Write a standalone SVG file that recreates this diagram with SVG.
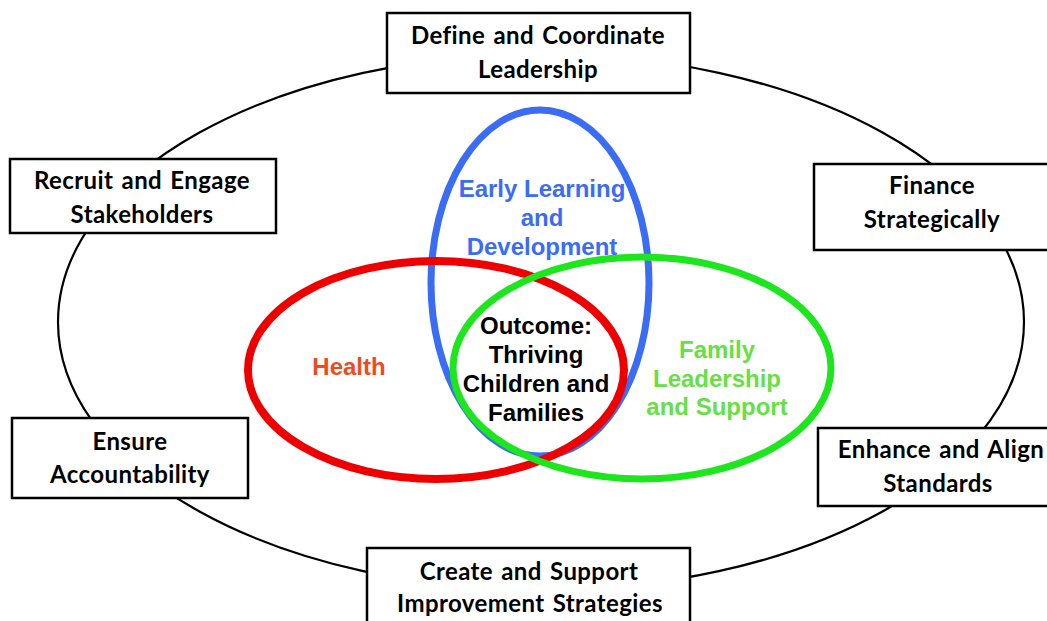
<svg xmlns="http://www.w3.org/2000/svg" width="1047" height="621" viewBox="0 0 1047 621">
<style>
.box{fill:#fff;stroke:#000;stroke-width:2.5}
.bt{font-family:Lato,"Open Sans",sans-serif;font-weight:700;font-size:24px;letter-spacing:0.4px;word-spacing:2px;fill:#000;text-anchor:middle}
.vt{font-family:"Liberation Sans",Arial,sans-serif;font-weight:700;font-size:24px;text-anchor:middle}
.ring{fill:none}
</style>
<rect width="1047" height="621" fill="#fff"/>
<g id="connectors">
<ellipse cx="541" cy="322" rx="483" ry="268" fill="none" stroke="#000" stroke-width="2.2"/>
</g>
<g id="venn">
<ellipse id="early-learning" class="ring" cx="540" cy="283" rx="109" ry="173" stroke="#3a6cf4" stroke-width="7"/>
<ellipse id="health" class="ring" cx="436" cy="370" rx="188" ry="109" stroke="#ee0000" stroke-width="8"/>
<ellipse id="family" class="ring" cx="642" cy="368" rx="189" ry="111" stroke="#1ee61e" stroke-width="7"/>
<text class="vt" fill="#3a6cf4"><tspan x="542" y="197">Early Learning</tspan><tspan x="542" y="226">and</tspan><tspan x="542" y="255">Development</tspan></text>
<text class="vt" fill="#f04a1e" x="349" y="375">Health</text>
<text class="vt" fill="#66e044"><tspan x="717" y="358">Family</tspan><tspan x="717" y="387">Leadership</tspan><tspan x="717" y="415">and Support</tspan></text>
<text class="vt" fill="#000"><tspan x="536" y="334">Outcome:</tspan><tspan x="536" y="363">Thriving</tspan><tspan x="536" y="392">Children and</tspan><tspan x="536" y="421">Families</tspan></text>
</g>
<g id="define">
<rect class="box" x="387" y="13" width="303" height="80"/>
<text class="bt"><tspan x="538" y="44">Define and Coordinate</tspan><tspan x="538" y="78">Leadership</tspan></text>
</g>
<g id="recruit">
<rect class="box" x="10" y="159" width="266" height="74"/>
<text class="bt"><tspan x="142" y="189">Recruit and Engage</tspan><tspan x="142" y="223">Stakeholders</tspan></text>
</g>
<g id="finance">
<rect class="box" x="814" y="164" width="240" height="86"/>
<text class="bt"><tspan x="932" y="194">Finance</tspan><tspan x="932" y="228">Strategically</tspan></text>
</g>
<g id="ensure">
<rect class="box" x="12" y="418" width="236" height="80"/>
<text class="bt"><tspan x="130" y="450">Ensure</tspan><tspan x="130" y="483">Accountability</tspan></text>
</g>
<g id="enhance">
<rect class="box" x="818" y="428" width="240" height="78"/>
<text class="bt"><tspan x="941" y="458">Enhance and Align</tspan><tspan x="938" y="492">Standards</tspan></text>
</g>
<g id="create">
<rect class="box" x="367" y="548" width="323" height="80"/>
<text class="bt"><tspan x="529" y="580">Create and Support</tspan><tspan x="530" y="612">Improvement Strategies</tspan></text>
</g>
</svg>
